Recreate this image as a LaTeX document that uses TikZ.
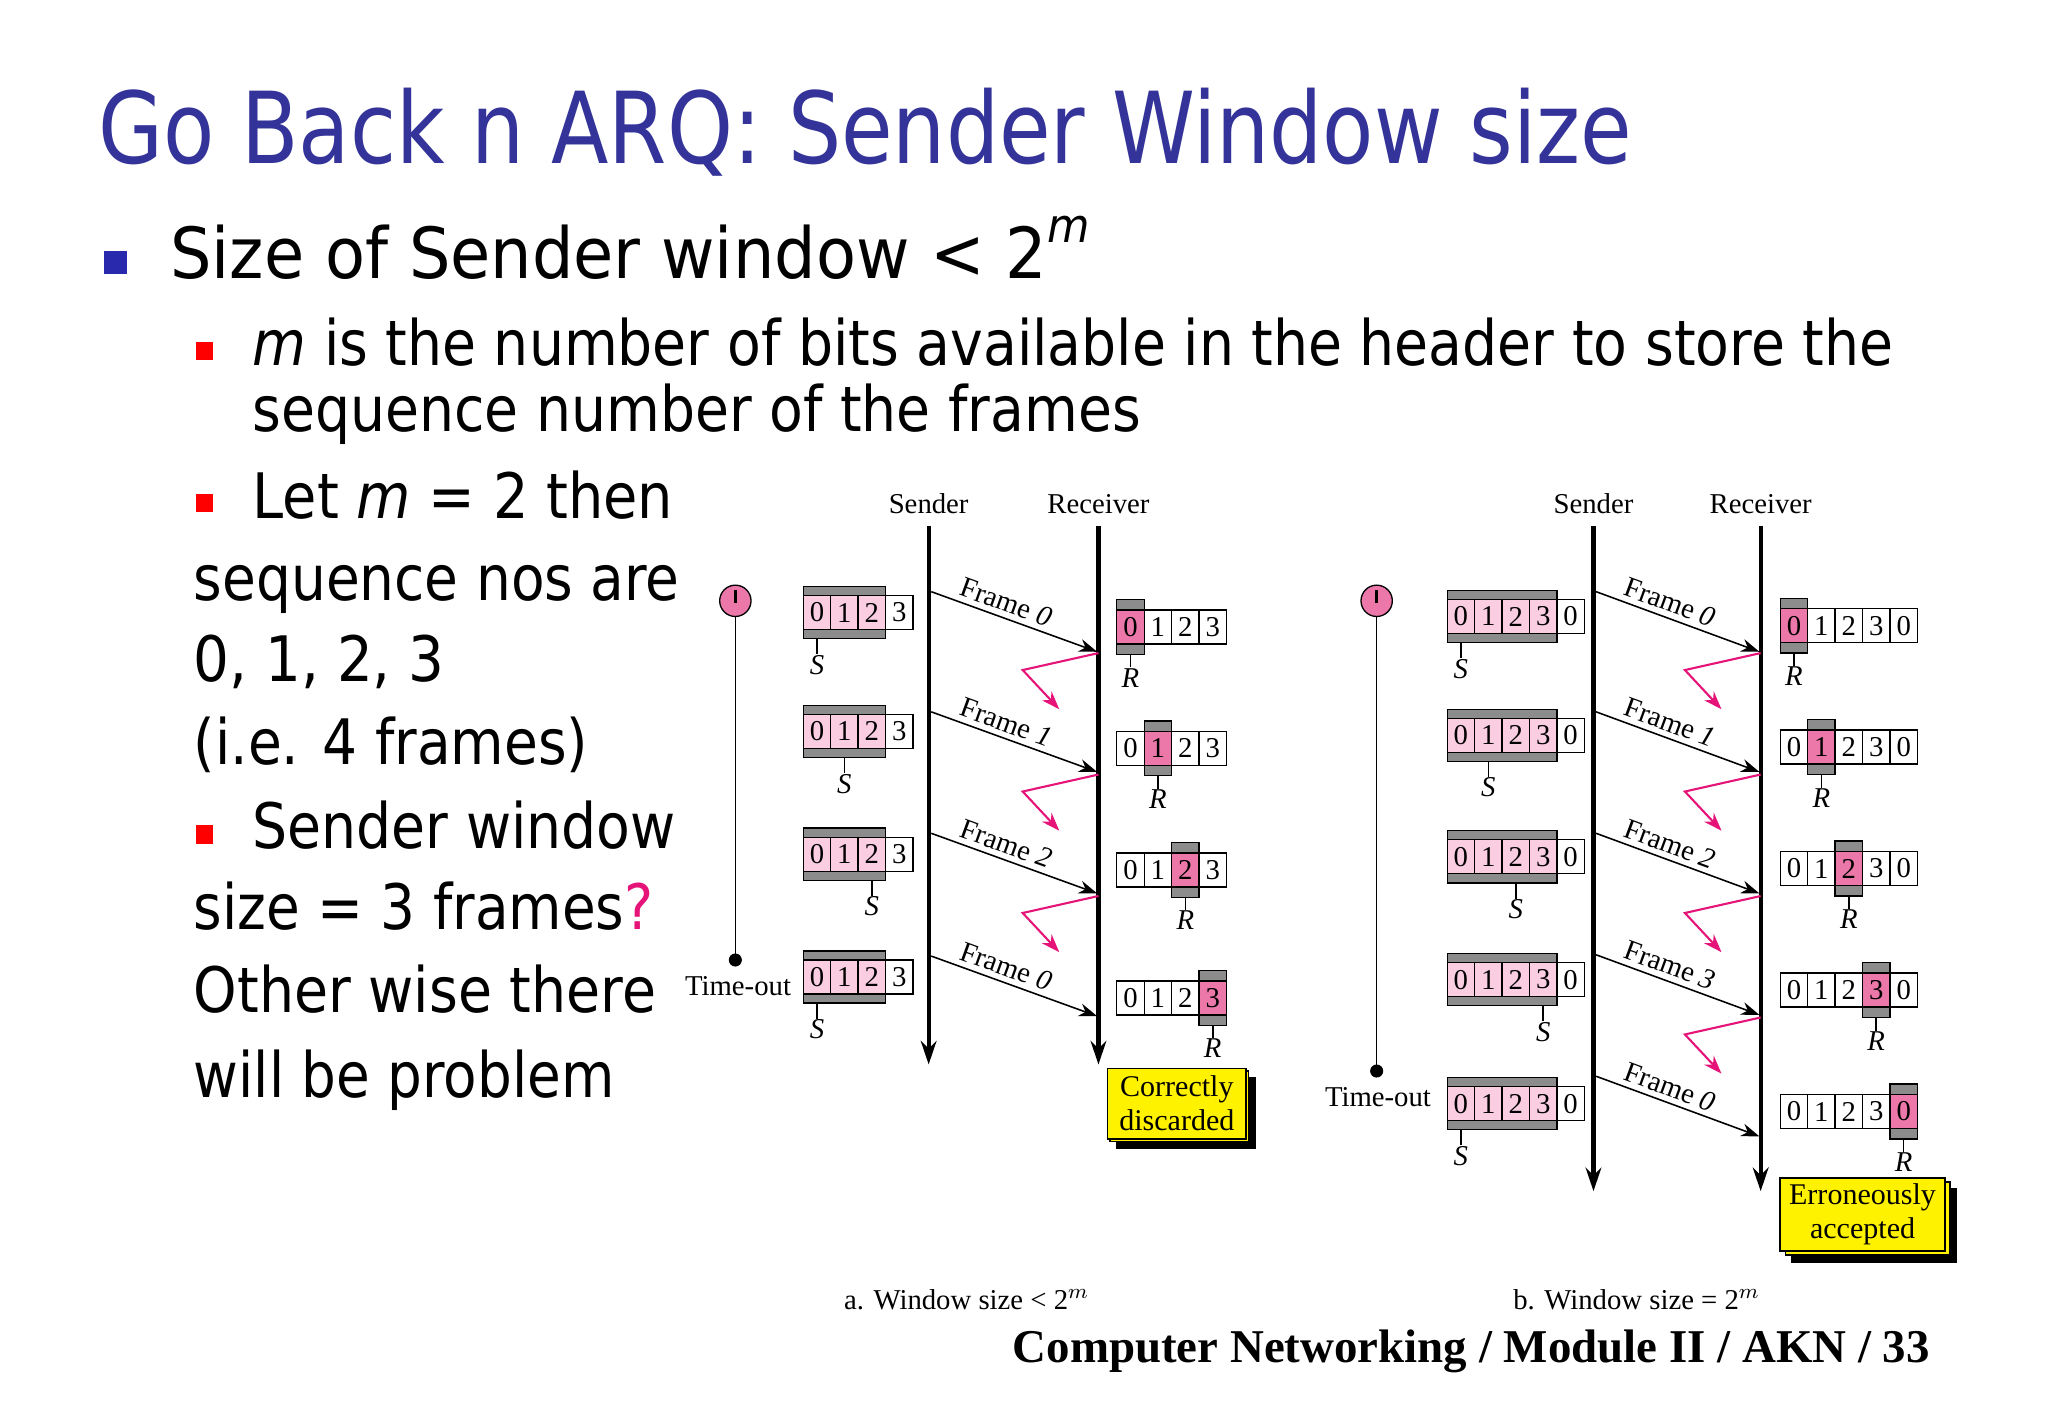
\documentclass[tikz,border=0pt]{standalone}
\usepackage{fontspec}
\setmainfont{DejaVu Sans}
\newfontfamily\ser{Liberation Serif}
\usetikzlibrary{arrows.meta,calc}
\definecolor{ttl}{RGB}{51,51,153}
\definecolor{lpink}{RGB}{250,205,225}
\definecolor{dpink}{RGB}{236,120,170}
\definecolor{mag}{RGB}{230,20,120}
\definecolor{bar}{RGB}{140,140,140}
\newcommand\fitw[2]{\resizebox{#1}{\height}{#2}}
\newcommand\sw[5]{% x,y center,cells,window,S index
 \fill[bar,draw=black,line width=0.5pt] (#1,#2-20) rectangle (#1+#4*21,#2+20);
 \foreach \i in {1,...,#3}{
  \pgfmathtruncatemacro\k{\i-1}\pgfmathtruncatemacro\lab{mod(\k,4)}
  \ifnum\i>#4 \def\cc{white}\else\def\cc{lpink}\fi
  \draw[fill=\cc,line width=0.5pt] (#1+\k*21,#2-13) rectangle node[lab]{\lab} (#1+\i*21,#2+13);}
 \draw[line width=0.6pt] (#1+#5*21+10.5,#2+20) -- ++(0,12) node[below=0pt,lab]{\textit{S}};}
\newcommand\rw[4]{% x,y,cells,R index
 \fill[bar,draw=black,line width=0.5pt] (#1+#4*21,#2-21) rectangle (#1+#4*21+21,#2+21);
 \foreach \i in {1,...,#3}{
  \pgfmathtruncatemacro\k{\i-1}\pgfmathtruncatemacro\lab{mod(\k,4)}
  \ifnum\k=#4 \def\cc{dpink}\else\def\cc{white}\fi
  \draw[fill=\cc,line width=0.5pt] (#1+\k*21,#2-13) rectangle node[lab]{\lab} (#1+\i*21,#2+13);}
 \draw[line width=0.6pt] (#1+#4*21+10.5,#2+21) -- ++(0,10) node[below=0pt,lab]{\textit{R}};}
\newcommand\ack[2]{\draw[mag,line width=0.8pt,-{Stealth[length=7pt,width=5pt]}] (#1,#2) -- (#1-58,#2+13) -- (#1-30,#2+43);}
\tikzset{lab/.style={font=\ser\fontsize{11}{12}\selectfont,inner sep=0pt},
 slide/.style={anchor=base west,inner sep=0pt},
 frm/.style={line width=0.6pt,-{Stealth[length=7pt,width=5pt]}},
 life/.style={line width=1.6pt,-{Stealth[length=9pt,width=6pt]}},
 tmr/.style={line width=0.5pt},
 note/.style={draw=black,fill=yellow,line width=0.6pt,align=center,font=\ser\fontsize{11.5}{13}\selectfont,inner sep=2pt},
 flab/.style={lab,sloped,above=2pt,pos=0.42}}
\begin{document}
\begin{tikzpicture}[x=0.5pt,y=-0.5pt]
\useasboundingbox[fill=white] (0,0) rectangle (1568,1086);
% slide text
\node[slide,text=ttl] (title) at (75,125) {\fitw{587pt}{\fontsize{38}{42}\selectfont Go Back n ARQ: Sender Window size}};
\fill[ttl!80!blue] (80,192) rectangle (97,210);
\node[slide] (b1) at (130,213) {\fitw{352pt}{\fontsize{27}{30}\selectfont Size of Sender window {\textless} 2\raisebox{0.5em}{\fontsize{18}{20}\selectfont\textit{m}}}};
\fill[red] (150,262) rectangle (163,276);
\fill[red] (150,378) rectangle (163,392);
\fill[red] (150,632) rectangle (163,646);
\node[slide] (s1) at (193,280) {\fitw{628pt}{\fontsize{24}{28}\selectfont \textit{m} is the number of bits available in the header to store the}};
\node[slide] (s1b) at (193,330) {\fitw{340pt}{\fontsize{24}{28}\selectfont sequence number of the frames}};
\node[slide] (s2) at (193,397) {\fitw{161pt}{\fontsize{24}{28}\selectfont Let \textit{m} = 2 then}};
\node[slide] (l1) at (148,460) {\fitw{186pt}{\fontsize{24}{28}\selectfont sequence nos are}};
\node[slide] (l2) at (148,522) {\fitw{96pt}{\fontsize{24}{28}\selectfont 0, 1, 2, 3}};
\node[slide] (l3) at (148,585) {\fitw{151pt}{\fontsize{24}{28}\selectfont (i.e. 4 frames)}};
\node[slide] (s3) at (193,650) {\fitw{162pt}{\fontsize{24}{28}\selectfont Sender window}};
\node[slide] (l4) at (148,712) {\fitw{176pt}{\fontsize{24}{28}\selectfont size = 3 frames\textcolor{mag}{?}}};
\node[slide] (l5) at (148,775) {\fitw{177pt}{\fontsize{24}{28}\selectfont Other wise there}};
\node[slide] (l6) at (148,840) {\fitw{161pt}{\fontsize{24}{28}\selectfont will be problem}};
\node[slide] (foot) at (775,1043) {\fitw{351pt}{\ser\bfseries\fontsize{18}{20}\selectfont Computer Networking / Module II / AKN / 33}};
% ===== diagram a
\node[lab] (sa) at (711,386) {Sender};
\node[lab] (ra) at (841,386) {Receiver};
\coordinate (sat) at (711,403); \coordinate (sab) at (711,815);
\coordinate (rat) at (841,403); \coordinate (rab) at (841,815);
\draw[life] (sat) -- (sab); \draw[life] (rat) -- (rab);
\draw[tmr] (563,460) -- (563,735); \fill (563,735) circle (5);
\node[circle,draw=black,fill=dpink,minimum size=12pt,inner sep=0pt,line width=0.5pt] (ta) at (563,460) {};
\draw[line width=1pt] (563,452) -- (563,462);
\node[lab,anchor=east] (toa) at (606,755) {Time-out};
\foreach \y/\s in {469/0,560/1,654/2,748/0}{\sw{615}{\y}{4}{3}{\s}}
\foreach \y/\r in {480/0,573/1,666/2,764/3}{\rw{855}{\y}{4}{\r}}
\foreach \y/\f in {453/0,545/1,638/2,732/0}{
  \coordinate (fa\y) at (713,\y); \coordinate (ea\y) at (840,\y+46);
  \draw[frm] (fa\y) -- node[flab]{Frame \textit{\f}} (ea\y);}
\foreach \y in {500,593,686}{\ack{841}{\y}}
\node[note,minimum width=53pt,minimum height=27pt] at (903,847) (ca) {};
\fill[black] ($(ca.south west)+(5,0)$) rectangle ($(ca.south east)+(5,5)$);
\fill[black] ($(ca.north east)+(0,5)$) rectangle ($(ca.south east)+(5,5)$);
\node[note,minimum width=53pt,minimum height=27pt] at (901,845) {Correctly\\discarded};
\node[lab] (capa) at (740,995) {a. Window size {\textless} 2$^{m}$};
% ===== diagram b
\node[lab] (sb) at (1220,386) {Sender};
\node[lab] (rb) at (1348,386) {Receiver};
\coordinate (sbt) at (1220,403); \coordinate (sbb) at (1220,912);
\coordinate (rbt) at (1348,403); \coordinate (rbb) at (1348,912);
\draw[life] (sbt) -- (sbb); \draw[life] (rbt) -- (rbb);
\draw[tmr] (1054,460) -- (1054,820); \fill (1054,820) circle (5);
\node[circle,draw=black,fill=dpink,minimum size=12pt,inner sep=0pt,line width=0.5pt] (tb) at (1054,460) {};
\draw[line width=1pt] (1054,452) -- (1054,462);
\node[lab] (tob) at (1055,840) {Time-out};
\foreach \y/\s in {472/0,563/1,656/2,750/3,845/0}{\sw{1108}{\y}{5}{4}{\s}}
\foreach \y/\r in {479/0,572/1,665/2,758/3,851/4}{\rw{1363}{\y}{5}{\r}}
\foreach \y/\f in {453/0,545/1,638/2,731/3,824/0}{
  \coordinate (fb\y) at (1222,\y); \coordinate (eb\y) at (1347,\y+46);
  \draw[frm] (fb\y) -- node[flab]{Frame \textit{\f}} (eb\y);}
\foreach \y in {500,593,686,779}{\ack{1348}{\y}}
\node[note,minimum width=63pt,minimum height=28pt] at (1430,933) (cb) {};
\fill[black] ($(cb.south west)+(5,0)$) rectangle ($(cb.south east)+(5,5)$);
\fill[black] ($(cb.north east)+(0,5)$) rectangle ($(cb.south east)+(5,5)$);
\node[note,minimum width=63pt,minimum height=28pt] at (1426,930) {Erroneously\\accepted};
\node[lab] (capb) at (1253,995) {b. Window size = 2$^{m}$};
\end{tikzpicture}
\end{document}
